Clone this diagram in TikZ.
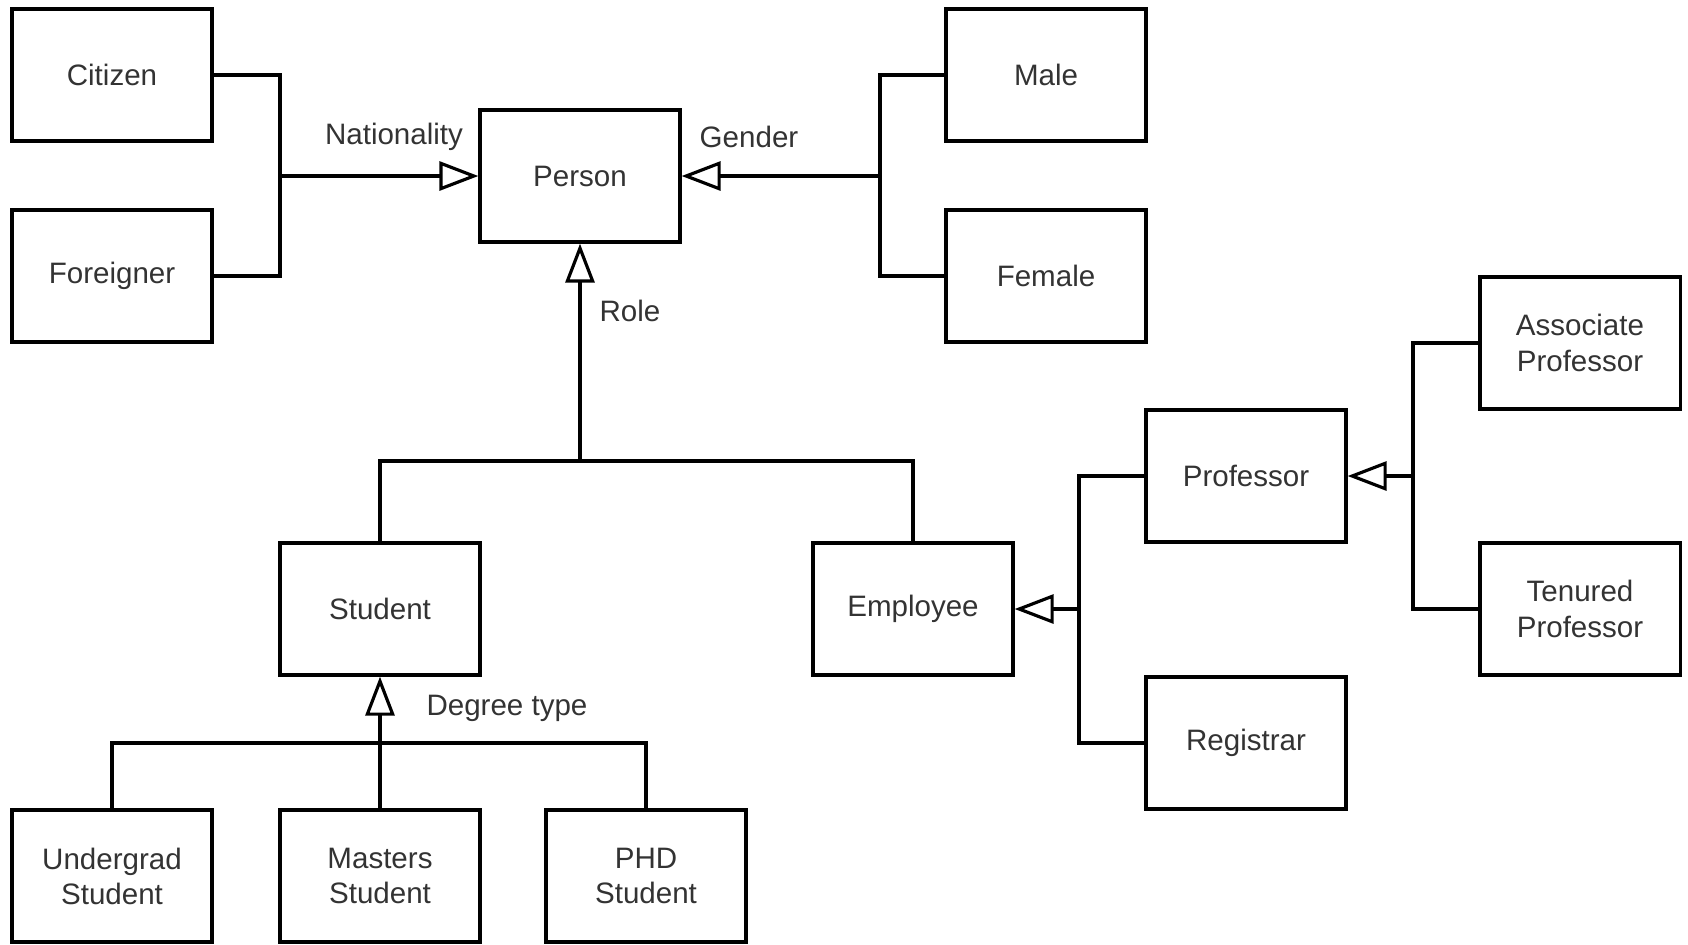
\documentclass[tikz,border=0pt]{standalone}
\usepackage{fontspec}
\setmainfont{Liberation Sans}
\usetikzlibrary{arrows.meta}
\begin{document}
\begin{tikzpicture}[x=0.01cm,y=-0.01cm,line width=0.9pt,
    >={Triangle[open,length=3.9mm,width=2.9mm]},
    box/.style={draw,minimum width=2cm,minimum height=1.32cm,align=center,
        font=\fontsize{8.4}{10}\selectfont,text=black!80},
    lbl/.style={font=\fontsize{8.4}{10}\selectfont,text=black!80}]
\useasboundingbox (0,0) rectangle (1688,944);

\foreach \n/\x/\y/\t in {citizen/112/75/Citizen, foreigner/112/276/Foreigner,
    person/580/176/Person, male/1046/75/Male, female/1046/276/Female,
    student/380/609/Student, employee/913/609/Employee,
    professor/1246/476/Professor, registrar/1246/743/Registrar,
    assoc/1580/343/{Associate\\Professor}, tenured/1580/609/{Tenured\\Professor},
    undergrad/112/876/{Undergrad\\Student}, masters/380/876/{Masters\\Student},
    phd/646/876/{PHD\\Student}}
{
    \node[box](\n) at (\x,\y) {\t};
}

\coordinate (nat) at (280,176);
\coordinate (gen) at (880,176);
\coordinate (role) at (580,461);
\coordinate (deg) at (380,743);
\coordinate (emp) at (1079,609);
\coordinate (prof) at (1413,476);

\draw (citizen.east) -| (nat) |- (foreigner.east);
\draw[->] (nat) -- (person.west);
\draw (male.west) -| (gen) |- (female.west);
\draw[->] (gen) -- (person.east);
\draw (student.north) |- (role) -| (employee.north);
\draw[->] (role) -- (person.south);
\draw (undergrad.north) |- (deg) -| (phd.north);
\draw[->] (masters.north) -- (student.south);
\draw (professor.west) -| (emp) |- (registrar.west);
\draw[->] (emp) -- (employee.east);
\draw (assoc.west) -| (prof) |- (tenured.west);
\draw[->] (prof) -- (professor.east);

\node[lbl] (lnat) at (394,137) {Nationality};
\node[lbl] (lgen) at (749,137) {Gender};
\node[lbl] (lrole) at (630,311) {Role};
\node[lbl] (ldeg) at (507,708) {Degree type};
\end{tikzpicture}
\end{document}
